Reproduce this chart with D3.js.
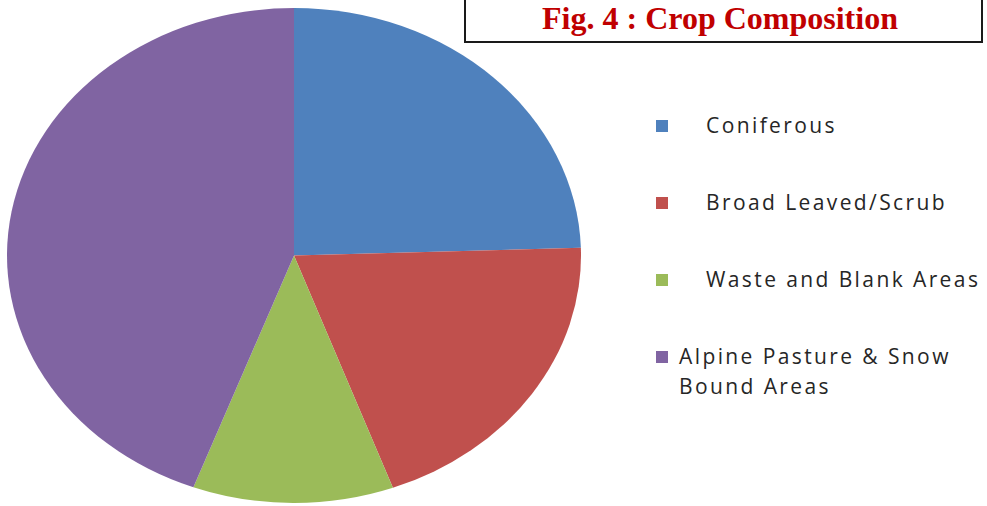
<!DOCTYPE html>
<html lang="en">
<head>
  <meta charset="UTF-8" />
  <title>Fig. 4 : Crop Composition</title>
  <script src="https://d3js.org/d3.v7.min.js"></script>
  <style>
    body { margin: 0; background: #fff; }
    .legend text { font-family: "Open Sans", sans-serif; font-size: 21px; letter-spacing: 2.4px; fill: #262626; }
  </style>
</head>
<body>
  <svg width="987" height="506"></svg>

  <script>
  // crop shares (%)
  const categories = ["Coniferous", "Broad Leaved/Scrub", "Waste and Blank Areas", "Alpine Pasture & Snow Bound Areas"];
  const shares = [24.5, 19.9, 11.3, 44.3];
  const legendLines = [["Coniferous"], ["Broad Leaved/Scrub"], ["Waste and Blank Areas"], ["Alpine Pasture & Snow", "Bound Areas"]];
  const colors = ["#4F81BD", "#C0504D", "#9BBB59", "#8064A2"];

  const svg = d3.select("svg");
  const width = +svg.attr("width");

  const data = categories.map((c, i) => ({ name: c, value: shares[i], lines: legendLines[i] }));

  const color = d3.scaleOrdinal().domain(categories).range(colors);

  // pie is slightly oval, so draw on a unit circle and stretch it
  const cx = 294, cy = 255.5, rx = 287, ry = 247.5;
  const r = 100;

  const pie = d3.pie().sort(null).value(d => d.value);
  const arc = d3.arc().innerRadius(0).outerRadius(r);

  svg.append("g")
    .attr("transform", `translate(${cx},${cy}) scale(${rx / r},${ry / r})`)
    .selectAll("path")
    .data(pie(data))
    .enter().append("path")
    .attr("d", arc)
    .attr("fill", d => color(d.data.name));

  // title box
  svg.append("rect")
    .attr("x", 465)
    .attr("y", -5)
    .attr("width", 517)
    .attr("height", 47)
    .attr("fill", "#fff")
    .attr("stroke", "#1a1a1a")
    .attr("stroke-width", 2);

  svg.append("text")
    .attr("x", 720)
    .attr("y", 28.5)
    .attr("text-anchor", "middle")
    .style("font", "bold 32px 'Liberation Serif', 'Times New Roman', serif")
    .attr("fill", "#C00000")
    .text("Fig. 4 : Crop Composition");

  // legend
  const legendY = d3.scalePoint().domain(categories).range([133, 364]);
  const textX = [706, 706, 706, 679];

  const legend = svg.append("g").attr("class", "legend")
    .selectAll("g")
    .data(data)
    .enter().append("g");

  legend.append("rect")
    .attr("x", 656)
    .attr("y", d => legendY(d.name) - 13)
    .attr("width", 12)
    .attr("height", 12)
    .attr("fill", d => color(d.name));

  legend.append("text")
    .attr("x", (d, i) => textX[i])
    .attr("y", d => legendY(d.name))
    .selectAll("tspan")
    .data((d, i) => d.lines.map(l => ({ l, x: textX[i] })))
    .enter().append("tspan")
    .attr("x", t => t.x)
    .attr("dy", (t, j) => j === 0 ? 0 : 30)
    .text(t => t.l);
  </script>
</body>
</html>
